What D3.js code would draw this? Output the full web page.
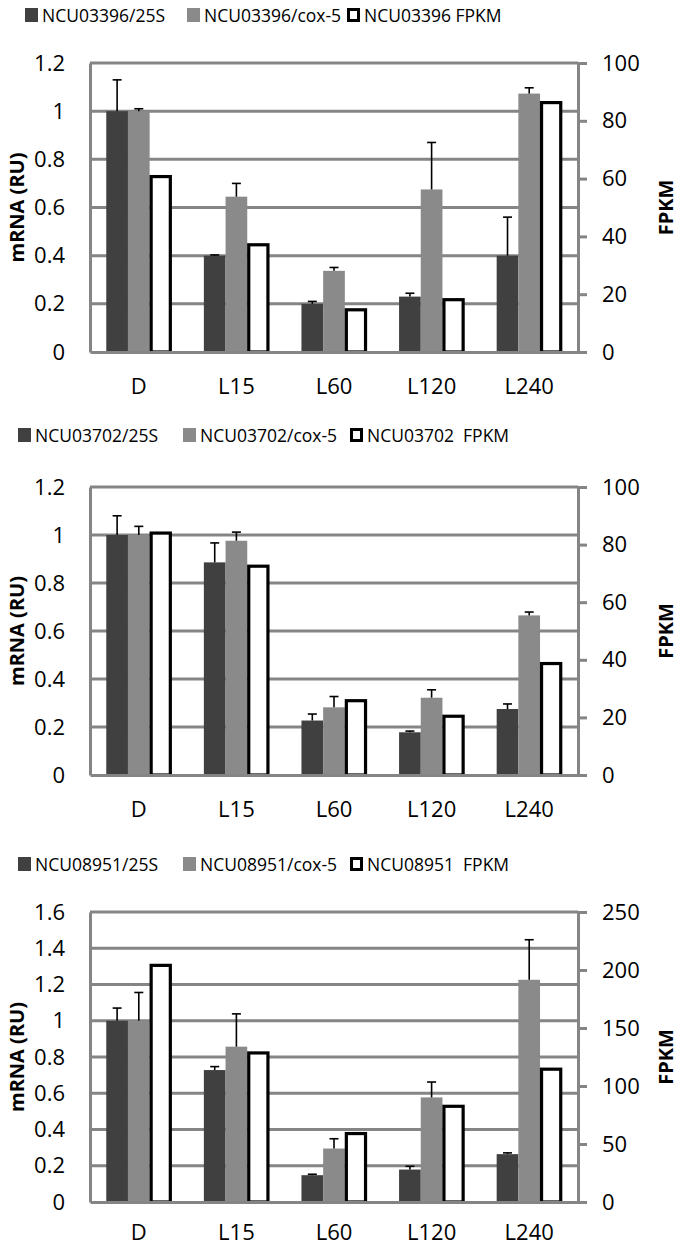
<!DOCTYPE html>
<html>
<head>
<meta charset="utf-8">
<script src="https://cdn.jsdelivr.net/npm/d3@7"></script>
<style>
body { margin: 0; background: #fff; }
svg { display: block; font-family: 'Open Sans', sans-serif; }
</style>
</head>
<body>
<script>
const categories = ['D', 'L15', 'L60', 'L120', 'L240'];

// NCU03396
const ncu03396Names = ['NCU03396/25S', 'NCU03396/cox-5', 'NCU03396 FPKM'];
const ncu03396Rrna = [1.0, 0.40, 0.20, 0.23, 0.40];
const ncu03396RrnaErr = [0.13, 0.003, 0.01, 0.014, 0.16];
const ncu03396Cox = [1.0, 0.645, 0.337, 0.675, 1.073];
const ncu03396CoxErr = [0.01, 0.055, 0.014, 0.195, 0.024];
const ncu03396Fpkm = [60.7, 37.1, 14.6, 18.1, 86.3];

// NCU03702
const ncu03702Names = ['NCU03702/25S', 'NCU03702/cox-5', 'NCU03702 \u00a0FPKM'];
const ncu03702Rrna = [1.0, 0.886, 0.227, 0.178, 0.275];
const ncu03702RrnaErr = [0.08, 0.081, 0.027, 0.005, 0.021];
const ncu03702Cox = [1.0, 0.976, 0.282, 0.322, 0.665];
const ncu03702CoxErr = [0.036, 0.036, 0.045, 0.033, 0.014];
const ncu03702Fpkm = [84, 72.5, 25.8, 20.4, 38.7];

// NCU08951
const ncu08951Names = ['NCU08951/25S', 'NCU08951/cox-5', 'NCU08951 \u00a0FPKM'];
const ncu08951Rrna = [1.0, 0.728, 0.148, 0.179, 0.264];
const ncu08951RrnaErr = [0.07, 0.019, 0.005, 0.018, 0.007];
const ncu08951Cox = [1.0, 0.857, 0.295, 0.577, 1.226];
const ncu08951CoxErr = [0.156, 0.181, 0.054, 0.085, 0.221];
const ncu08951Fpkm = [204, 128.5, 59, 82.5, 114.5];

const rnaTicks12 = [0, 0.2, 0.4, 0.6, 0.8, 1, 1.2];
const rnaTicks16 = [0, 0.2, 0.4, 0.6, 0.8, 1, 1.2, 1.4, 1.6];
const fpkmTicks100 = [0, 20, 40, 60, 80, 100];
const fpkmTicks250 = [0, 50, 100, 150, 200, 250];

const colors = ['#404040', '#8a8a8a', '#fff'];
const gridColor = '#858585';

class Panel {
	constructor(svg) {
		this._svg = svg;
		this._left = 90;
		this._right = 578;
		this._top = 63;
		this._bottom = 352;
		this._labelPad = 26;
		this._legendY = 7;
		this._legendX = [25, 187, 347];
		this._names = [];
		this._rrna = [];
		this._rrnaErr = [];
		this._cox = [];
		this._coxErr = [];
		this._fpkm = [];
		this._ticksL = [];
		this._ticksR = [];
	}
	layout(top, bottom, legendY, legendX, labelPad) {
		this._top = top;
		this._bottom = bottom;
		this._legendY = legendY;
		this._legendX = legendX;
		if(labelPad != null) this._labelPad = labelPad;
		return this;
	}
	data(names, rrna, rrnaErr, cox, coxErr, fpkm) {
		this._names = names;
		this._rrna = rrna;
		this._rrnaErr = rrnaErr;
		this._cox = cox;
		this._coxErr = coxErr;
		this._fpkm = fpkm;
		return this;
	}
	ticks(left, right) {
		this._ticksL = left;
		this._ticksR = right;
		return this;
	}
	render() {
		this._g = this._svg.append('g');
		this._scaleX = d3.scaleBand().domain(categories).range([this._left, this._right]);
		this._scaleS = d3.scaleBand().domain([0, 1, 2]).range([0, this._scaleX.bandwidth()]).paddingOuter(0.75);
		this._scaleY = d3.scaleLinear().domain([0, d3.max(this._ticksL)]).range([this._bottom, this._top]);
		this._scaleY2 = d3.scaleLinear().domain([0, d3.max(this._ticksR)]).range([this._bottom, this._top]);
		this.renderGrid();
		this.renderBars();
		this.renderErrors();
		this.renderAxes();
		this.renderLegend();
	}
	renderGrid() {
		this._g.append('g')
			.selectAll('line')
			.data(this._ticksL.filter(d => d > 0))
			.enter()
			.append('line')
			.attr('x1', this._left)
			.attr('x2', this._right)
			.attr('y1', d => this._scaleY(d))
			.attr('y2', d => this._scaleY(d))
			.attr('stroke', gridColor)
			.attr('stroke-width', 3)
	}
	renderBars() {
		let w = this._scaleS.bandwidth();
		let sx = (i, s) => this._scaleX(categories[i]) + this._scaleS(s);

		[this._rrna, this._cox].forEach((vals, s) => {
			this._g.append('g')
				.selectAll('rect')
				.data(vals)
				.enter()
				.append('rect')
				.attr('x', (d, i) => sx(i, s))
				.attr('width', w)
				.attr('y', d => this._scaleY(d))
				.attr('height', d => this._bottom - this._scaleY(d))
				.attr('fill', colors[s])
		})

		this._g.append('g')
			.selectAll('rect')
			.data(this._fpkm)
			.enter()
			.append('rect')
			.attr('x', (d, i) => sx(i, 2) + 1.5)
			.attr('width', w - 2.5)
			.attr('y', d => this._scaleY2(d))
			.attr('height', d => this._bottom - this._scaleY2(d))
			.attr('fill', '#fff')
			.attr('stroke', '#000')
			.attr('stroke-width', 3.2)
	}
	renderErrors() {
		let w = this._scaleS.bandwidth();
		let cap = 4.5;
		[[this._rrna, this._rrnaErr], [this._cox, this._coxErr]].forEach(([vals, errs], s) => {
			let eg = this._g.append('g')
				.attr('stroke', '#000')
				.attr('stroke-width', 1.6)
				.selectAll('g')
				.data(vals)
				.enter()
				.append('g')
				.attr('transform', (d, i) => `translate(${this._scaleX(categories[i]) + this._scaleS(s) + w / 2},0)`)

			eg.append('line')
				.attr('x1', 0)
				.attr('x2', 0)
				.attr('y1', d => this._scaleY(d))
				.attr('y2', (d, i) => this._scaleY(d + errs[i]))

			eg.append('line')
				.attr('x1', -cap)
				.attr('x2', cap)
				.attr('y1', (d, i) => this._scaleY(d + errs[i]))
				.attr('y2', (d, i) => this._scaleY(d + errs[i]))
		})
	}
	renderAxes() {
		let fmt = d => String(+d.toFixed(1));

		let yAxis = d3.axisLeft(this._scaleY).tickValues(this._ticksL).tickFormat(fmt).tickSize(0).tickPadding(25);
		let yg = this._g.append('g')
			.attr('transform', `translate(${this._left},0)`)
			.call(yAxis)
		yg.select('.domain').attr('stroke', gridColor).attr('stroke-width', 3)
		yg.selectAll('text').style('font-size', '22px').attr('fill', '#000')

		let y2Axis = d3.axisRight(this._scaleY2).tickValues(this._ticksR).tickSizeInner(9).tickSizeOuter(0).tickPadding(15);
		let y2g = this._g.append('g')
			.attr('transform', `translate(${this._right},0)`)
			.call(y2Axis)
		y2g.select('.domain').attr('stroke', gridColor).attr('stroke-width', 3)
		y2g.selectAll('.tick line').attr('stroke', gridColor).attr('stroke-width', 3)
		y2g.selectAll('text').style('font-size', '22px').attr('fill', '#000')

		let xAxis = d3.axisBottom(this._scaleX).tickSize(0).tickPadding(this._labelPad);
		let xg = this._g.append('g')
			.attr('transform', `translate(0,${this._bottom})`)
			.call(xAxis)
		xg.select('.domain').attr('stroke', gridColor).attr('stroke-width', 3)
		xg.selectAll('text').style('font-size', '22px').attr('fill', '#000')

		yg.attr('font-family', null);
		y2g.attr('font-family', null);
		xg.attr('font-family', null);

		let mid = (this._top + this._bottom) / 2;
		this._g.append('text')
			.attr('transform', `translate(24,${mid}) rotate(-90)`)
			.attr('text-anchor', 'middle')
			.style('font-size', '20px')
			.style('font-weight', 'bold')
			.text('mRNA (RU)')

		this._g.append('text')
			.attr('transform', `translate(673,${mid}) rotate(-90)`)
			.attr('text-anchor', 'middle')
			.style('font-size', '20px')
			.style('font-weight', 'bold')
			.text('FPKM')
	}
	renderLegend() {
		let items = this._g.append('g')
			.selectAll('g')
			.data(this._names)
			.enter()
			.append('g')
			.attr('transform', (d, i) => `translate(${this._legendX[i]},${this._legendY})`)

		items.append('rect')
			.attr('x', (d, i) => i == 2 ? 1.5 : 0)
			.attr('y', (d, i) => i == 2 ? 1.5 : 0)
			.attr('width', (d, i) => i == 2 ? 10 : 13)
			.attr('height', (d, i) => i == 2 ? 11 : 14)
			.attr('fill', (d, i) => colors[i])
			.attr('stroke', (d, i) => i == 2 ? '#000' : 'none')
			.attr('stroke-width', 3)

		items.append('text')
			.attr('x', 17)
			.attr('y', 14)
			.style('font-size', '17.5px')
			.style('white-space', 'pre')
			.text(d => d)
	}
}

const svg = d3.select('body')
	.append('svg')
	.attr('width', 678)
	.attr('height', 1247)
	.style('background', '#fff');

new Panel(svg)
	.layout(63, 352, 8, [25, 187, 347])
	.data(ncu03396Names, ncu03396Rrna, ncu03396RrnaErr, ncu03396Cox, ncu03396CoxErr, ncu03396Fpkm)
	.ticks(rnaTicks12, fpkmTicks100)
	.render();

new Panel(svg)
	.layout(487, 775, 428, [18, 183, 350])
	.data(ncu03702Names, ncu03702Rrna, ncu03702RrnaErr, ncu03702Cox, ncu03702CoxErr, ncu03702Fpkm)
	.ticks(rnaTicks12, fpkmTicks100)
	.render();

new Panel(svg)
	.layout(912, 1202, 857, [18, 183, 350], 22)
	.data(ncu08951Names, ncu08951Rrna, ncu08951RrnaErr, ncu08951Cox, ncu08951CoxErr, ncu08951Fpkm)
	.ticks(rnaTicks16, fpkmTicks250)
	.render();
</script>
</body>
</html>
